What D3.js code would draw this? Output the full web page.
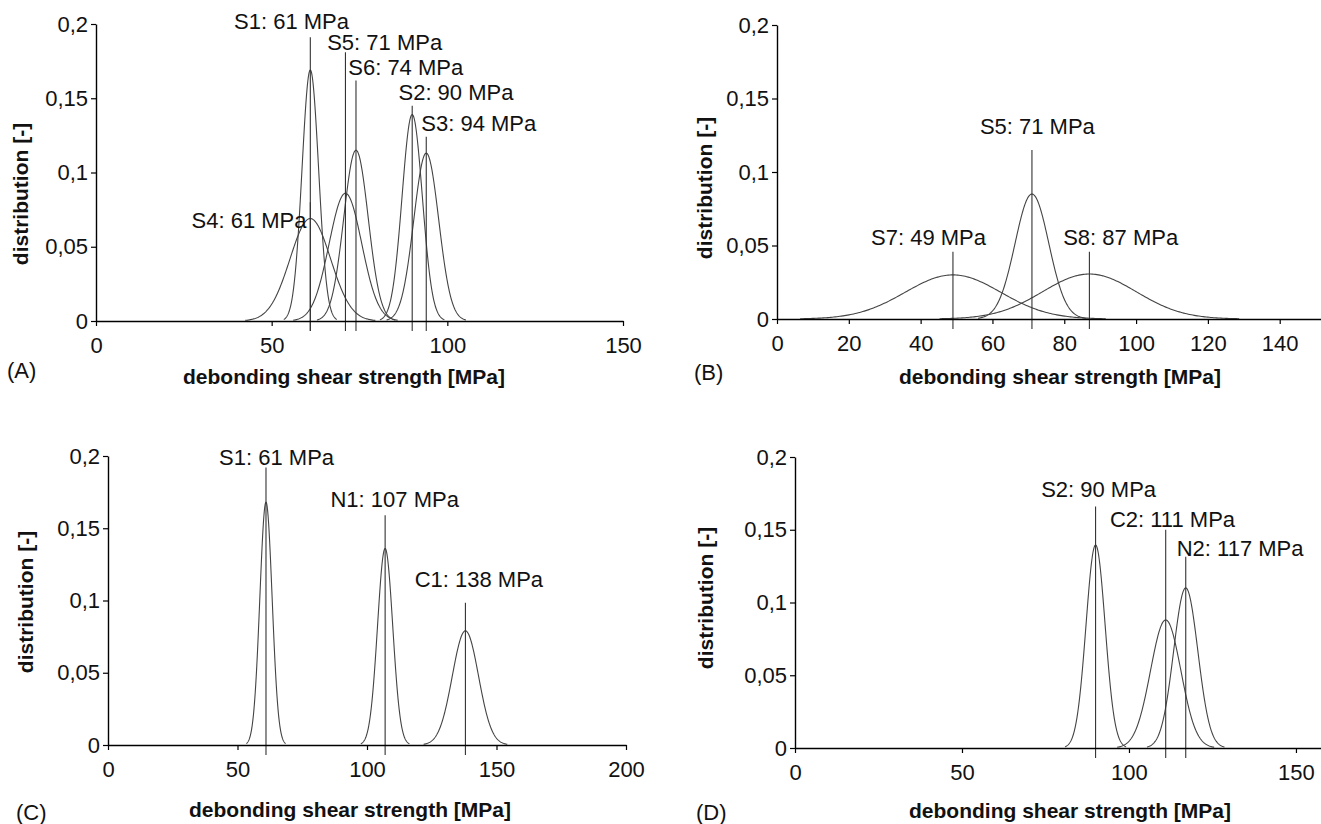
<!DOCTYPE html>
<html>
<head>
<meta charset="utf-8">
<script src="https://cdn.jsdelivr.net/npm/d3@7"></script>
<style>
  body { margin: 0; background: #fff; }
  svg { display: block; }
  .tick text { font-family: "Liberation Sans Narrow", "Liberation Sans", Arial, sans-serif; font-size: 22px; fill: #111; }
  .ann { font-family: "Liberation Sans Narrow", "Liberation Sans", Arial, sans-serif; font-size: 22px; fill: #111; }
  .title { font-family: "Liberation Sans", Arial, sans-serif; font-size: 21px; font-weight: bold; fill: #111; }
  .letter { font-family: "Liberation Sans Narrow", "Liberation Sans", Arial, sans-serif; font-size: 22px; fill: #111; }
</style>
</head>
<body>
<div id="chart"></div>
<script>
// values
const yTicks = [0, 0.05, 0.1, 0.15, 0.2];
const yTickLabels = ["0", "0,05", "0,1", "0,15", "0,2"];

const namesA = ["S1", "S5", "S6", "S2", "S3", "S4"];
const meansA = [61, 71, 74, 90, 94, 61];
const peaksA = [0.169, 0.086, 0.115, 0.139, 0.113, 0.069];
const topsA = [0.191, 0.181, 0.162, 0.145, 0.124, 0.08];
const labelXA = [39.3, 65.8, 71.8, 86.1, 92.6, 27.2];
const labelYA = [0.202, 0.188, 0.171, 0.154, 0.133, 0.0675];
const xTicksA = [0, 50, 100, 150];

const namesB = ["S7", "S5", "S8"];
const meansB = [49, 71, 87];
const peaksB = [0.030, 0.085, 0.0306];
const topsB = [0.0458, 0.115, 0.0458];
const labelXB = [26.2, 56.5, 79.7];
const labelYB = [0.0558, 0.131, 0.0558];
const xTicksB = [0, 20, 40, 60, 80, 100, 120, 140];

const namesC = ["S1", "N1", "C1"];
const meansC = [61, 107, 138];
const peaksC = [0.168, 0.136, 0.079];
const topsC = [0.192, 0.159, 0.0985];
const labelXC = [42.9, 85.9, 118.4];
const labelYC = [0.199, 0.170, 0.115];
const xTicksC = [0, 50, 100, 150, 200];

const namesD = ["S2", "C2", "N2"];
const meansD = [90, 111, 117];
const peaksD = [0.1395, 0.088, 0.110];
const topsD = [0.166, 0.150, 0.1315];
const labelXD = [73.7, 94.3, 114.3];
const labelYD = [0.178, 0.157, 0.137];
const xTicksD = [0, 50, 100, 150];

const xTitle = "debonding shear strength [MPa]";
const yTitle = "distribution [-]";

// panel frames (pixels)
const panels = [
  { id: "A", names: namesA, means: meansA, peaks: peaksA, tops: topsA, lx: labelXA, ly: labelYA,
    xTicks: xTicksA, xMax: 150, left: 96, right: 623, top: 24, bottom: 321,
    xt: [344, 377], yt: [21, 194], letter: [7, 370] },
  { id: "B", names: namesB, means: meansB, peaks: peaksB, tops: topsB, lx: labelXB, ly: labelYB,
    xTicks: xTicksB, xMax: 151.5, left: 777, right: 1321, top: 25, bottom: 319,
    xt: [1060, 377], yt: [705, 188], letter: [694, 372] },
  { id: "C", names: namesC, means: meansC, peaks: peaksC, tops: topsC, lx: labelXC, ly: labelYC,
    xTicks: xTicksC, xMax: 200, left: 108, right: 626, top: 456, bottom: 745,
    xt: [350, 810], yt: [26, 602], letter: [16, 812] },
  { id: "D", names: namesD, means: meansD, peaks: peaksD, tops: topsD, lx: labelXD, ly: labelYD,
    xTicks: xTicksD, xMax: 157.5, left: 795, right: 1321, top: 457, bottom: 748,
    xt: [1070, 811], yt: [706, 598], letter: [696, 812] }
];

const svg = d3.select("#chart").append("svg")
  .attr("width", 1321)
  .attr("height", 824);

// normal density drawn from the mean and the peak height
function bell(mean, peak) {
  const sigma = 1 / (peak * Math.sqrt(2 * Math.PI));
  return d3.range(0, 201).map(i => {
    const x = mean - 3.2 * sigma + i * (6.4 * sigma / 200);
    return [x, peak * Math.exp(-0.5 * ((x - mean) / sigma) ** 2)];
  });
}

panels.forEach(p => {
  const x = d3.scaleLinear().domain([0, p.xMax]).range([p.left, p.right]);
  const y = d3.scaleLinear().domain([0, 0.2]).range([p.bottom, p.top]);
  const g = svg.append("g");

  const line = d3.line().x(d => x(d[0])).y(d => y(d[1]));

  // curves
  g.selectAll("path.curve")
    .data(p.means.map((m, i) => bell(m, p.peaks[i])))
    .enter().append("path")
      .attr("class", "curve")
      .attr("d", line)
      .attr("fill", "none")
      .attr("stroke", "#444")
      .attr("stroke-width", 1.1);

  // mean lines
  g.selectAll("line.mean")
    .data(p.means)
    .enter().append("line")
      .attr("class", "mean")
      .attr("x1", d => x(d)).attr("x2", d => x(d))
      .attr("y1", y(0) + 10)
      .attr("y2", (d, i) => y(p.tops[i]))
      .attr("stroke", "#333")
      .attr("stroke-width", 1.1);

  // labels
  g.selectAll("text.ann")
    .data(p.names)
    .enter().append("text")
      .attr("class", "ann")
      .attr("x", (d, i) => x(p.lx[i]))
      .attr("y", (d, i) => y(p.ly[i]))
      .attr("dy", "0.35em")
      .text((d, i) => d + ": " + p.means[i] + " MPa");

  // axes
  const yAxis = g.append("g")
    .attr("transform", "translate(" + p.left + ",0)")
    .call(d3.axisLeft(y).tickValues(yTicks).tickFormat((d, i) => yTickLabels[i])
      .tickSize(5).tickSizeOuter(0).tickPadding(3));

  const xAxis = g.append("g")
    .attr("transform", "translate(0," + p.bottom + ")")
    .call(d3.axisBottom(x).tickValues(p.xTicks).tickFormat(d3.format("d"))
      .tickSize(5).tickSizeOuter(0).tickPadding(11));

  [yAxis, xAxis].forEach(a => {
    a.select(".domain").attr("stroke", "#000").attr("stroke-width", 1.4);
    a.selectAll(".tick line").attr("stroke", "#000").attr("stroke-width", 1.2);
    a.selectAll(".tick text").attr("font-size", null).attr("font-family", null);
  });
  yAxis.selectAll(".tick text").attr("fill", "#111");

  // titles
  g.append("text")
    .attr("class", "title")
    .attr("x", p.xt[0]).attr("y", p.xt[1])
    .attr("dy", "0.35em")
    .attr("text-anchor", "middle")
    .text(xTitle);

  g.append("text")
    .attr("class", "title")
    .attr("transform", "translate(" + p.yt[0] + "," + p.yt[1] + ") rotate(-90)")
    .attr("dy", "0.35em")
    .attr("text-anchor", "middle")
    .text(yTitle);

  g.append("text")
    .attr("class", "letter")
    .attr("x", p.letter[0]).attr("y", p.letter[1])
    .attr("dy", "0.35em")
    .text("(" + p.id + ")");
});
</script>
</body>
</html>
